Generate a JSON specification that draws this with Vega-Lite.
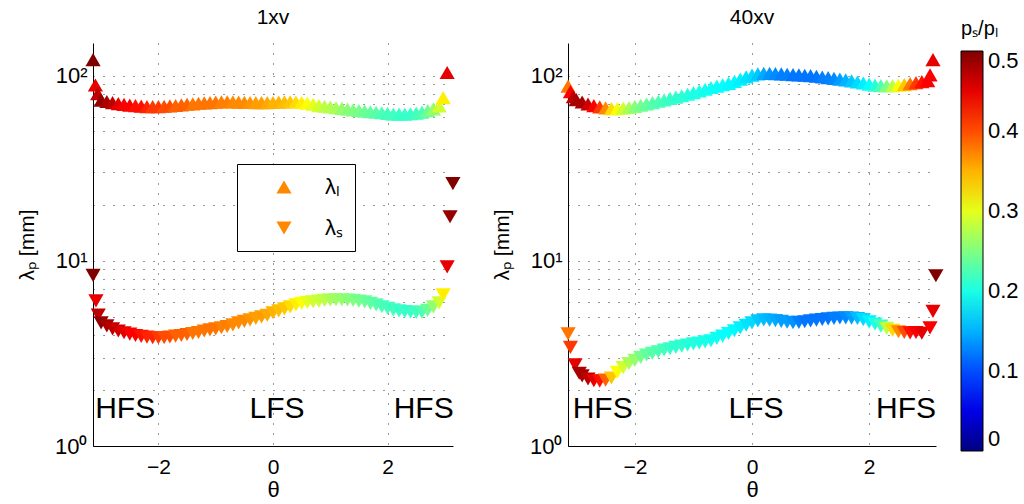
{
"$schema": "https://vega.github.io/schema/vega-lite/v6.json",
"background": "white",
"padding": {"left": 16, "top": 7, "right": 5, "bottom": 5},
"spacing": 30,
"config": {
  "font": "Liberation Sans",
  "view": {"stroke": null},
  "axis": {"labelColor": "black", "titleColor": "black", "domainColor": "black", "domainWidth": 1, "gridColor": "black", "gridDash": [1, 9], "gridOpacity": 0.8, "gridWidth": 1, "ticks": false, "labelFont": "Liberation Sans", "titleFont": "Liberation Sans", "titleFontWeight": "normal"},
  "title": {"fontSize": 21, "fontWeight": "normal", "color": "black", "offset": 15, "frame": "group", "font": "Liberation Sans"},
  "legend": {"labelColor": "black", "titleColor": "black", "labelFont": "Liberation Sans", "titleFont": "Liberation Sans"}
},
"datasets": {
  "p1": [
    {"t":-3.14,"v":122,"c":0.5,"s":"l"},{"t":-3.1,"v":89,"c":0.45,"s":"l"},{"t":-3.06,"v":80,"c":0.47,"s":"l"},
    {"t":-3.0,"v":73.7,"c":0.49,"s":"l"},{"t":-2.9,"v":72.5,"c":0.48,"s":"l"},{"t":-2.8,"v":71.5,"c":0.47,"s":"l"},{"t":-2.7,"v":70.6,"c":0.45,"s":"l"},{"t":-2.6,"v":69.9,"c":0.44,"s":"l"},{"t":-2.5,"v":69.3,"c":0.44,"s":"l"},{"t":-2.4,"v":68.8,"c":0.43,"s":"l"},{"t":-2.3,"v":68.4,"c":0.43,"s":"l"},{"t":-2.2,"v":68.0,"c":0.42,"s":"l"},{"t":-2.1,"v":68.0,"c":0.41,"s":"l"},
    {"t":-2.0,"v":68.0,"c":0.41,"s":"l"},{"t":-1.9,"v":68.3,"c":0.40,"s":"l"},{"t":-1.8,"v":68.6,"c":0.40,"s":"l"},{"t":-1.7,"v":69.0,"c":0.39,"s":"l"},{"t":-1.6,"v":69.5,"c":0.39,"s":"l"},{"t":-1.5,"v":70.0,"c":0.39,"s":"l"},{"t":-1.4,"v":70.4,"c":0.38,"s":"l"},{"t":-1.3,"v":70.9,"c":0.38,"s":"l"},{"t":-1.2,"v":71.2,"c":0.38,"s":"l"},{"t":-1.1,"v":71.5,"c":0.38,"s":"l"},
    {"t":-1.0,"v":71.9,"c":0.38,"s":"l"},{"t":-0.9,"v":72.2,"c":0.375,"s":"l"},{"t":-0.8,"v":72.3,"c":0.375,"s":"l"},{"t":-0.7,"v":72.1,"c":0.37,"s":"l"},{"t":-0.6,"v":71.9,"c":0.37,"s":"l"},{"t":-0.5,"v":71.7,"c":0.37,"s":"l"},{"t":-0.4,"v":71.6,"c":0.365,"s":"l"},{"t":-0.3,"v":71.5,"c":0.36,"s":"l"},{"t":-0.2,"v":71.5,"c":0.36,"s":"l"},{"t":-0.1,"v":71.5,"c":0.355,"s":"l"},
    {"t":0.0,"v":71.6,"c":0.35,"s":"l"},{"t":0.1,"v":71.9,"c":0.35,"s":"l"},{"t":0.2,"v":72.1,"c":0.345,"s":"l"},{"t":0.3,"v":72.3,"c":0.34,"s":"l"},{"t":0.4,"v":72.0,"c":0.33,"s":"l"},{"t":0.5,"v":71.6,"c":0.32,"s":"l"},{"t":0.6,"v":71.0,"c":0.31,"s":"l"},{"t":0.7,"v":70.0,"c":0.30,"s":"l"},{"t":0.8,"v":68.9,"c":0.29,"s":"l"},{"t":0.9,"v":68.3,"c":0.28,"s":"l"},
    {"t":1.0,"v":67.7,"c":0.275,"s":"l"},{"t":1.1,"v":67.1,"c":0.27,"s":"l"},{"t":1.2,"v":66.5,"c":0.26,"s":"l"},{"t":1.3,"v":65.9,"c":0.255,"s":"l"},{"t":1.4,"v":65.3,"c":0.25,"s":"l"},{"t":1.5,"v":64.8,"c":0.245,"s":"l"},{"t":1.6,"v":64.3,"c":0.24,"s":"l"},{"t":1.7,"v":63.8,"c":0.235,"s":"l"},{"t":1.8,"v":63.4,"c":0.23,"s":"l"},{"t":1.9,"v":63.0,"c":0.225,"s":"l"},
    {"t":2.0,"v":62.5,"c":0.22,"s":"l"},{"t":2.1,"v":62.0,"c":0.22,"s":"l"},{"t":2.2,"v":61.9,"c":0.215,"s":"l"},{"t":2.3,"v":61.9,"c":0.215,"s":"l"},{"t":2.4,"v":62.2,"c":0.215,"s":"l"},{"t":2.5,"v":62.7,"c":0.22,"s":"l"},{"t":2.6,"v":63.5,"c":0.225,"s":"l"},{"t":2.7,"v":64.7,"c":0.24,"s":"l"},{"t":2.8,"v":66.1,"c":0.26,"s":"l"},{"t":2.9,"v":68.5,"c":0.29,"s":"l"},
    {"t":2.97,"v":76.0,"c":0.32,"s":"l"},{"t":3.04,"v":104,"c":0.45,"s":"l"},
    {"t":-3.14,"v":8.35,"c":0.5,"s":"s"},{"t":-3.09,"v":6.08,"c":0.45,"s":"s"},{"t":-3.05,"v":5.1,"c":0.47,"s":"s"},
    {"t":-3.0,"v":4.62,"c":0.49,"s":"s"},{"t":-2.9,"v":4.45,"c":0.48,"s":"s"},{"t":-2.8,"v":4.29,"c":0.47,"s":"s"},{"t":-2.7,"v":4.18,"c":0.46,"s":"s"},{"t":-2.6,"v":4.09,"c":0.45,"s":"s"},{"t":-2.5,"v":4.02,"c":0.44,"s":"s"},{"t":-2.4,"v":3.95,"c":0.44,"s":"s"},{"t":-2.3,"v":3.91,"c":0.43,"s":"s"},{"t":-2.2,"v":3.87,"c":0.42,"s":"s"},{"t":-2.1,"v":3.84,"c":0.42,"s":"s"},
    {"t":-2.0,"v":3.84,"c":0.41,"s":"s"},{"t":-1.9,"v":3.85,"c":0.40,"s":"s"},{"t":-1.8,"v":3.88,"c":0.40,"s":"s"},{"t":-1.7,"v":3.92,"c":0.39,"s":"s"},{"t":-1.6,"v":3.95,"c":0.39,"s":"s"},{"t":-1.5,"v":4.00,"c":0.39,"s":"s"},{"t":-1.4,"v":4.05,"c":0.38,"s":"s"},{"t":-1.3,"v":4.10,"c":0.38,"s":"s"},{"t":-1.2,"v":4.18,"c":0.38,"s":"s"},{"t":-1.1,"v":4.24,"c":0.38,"s":"s"},
    {"t":-1.0,"v":4.29,"c":0.38,"s":"s"},{"t":-0.9,"v":4.35,"c":0.375,"s":"s"},{"t":-0.8,"v":4.42,"c":0.375,"s":"s"},{"t":-0.7,"v":4.51,"c":0.37,"s":"s"},{"t":-0.6,"v":4.62,"c":0.37,"s":"s"},{"t":-0.5,"v":4.71,"c":0.37,"s":"s"},{"t":-0.4,"v":4.80,"c":0.365,"s":"s"},{"t":-0.3,"v":4.89,"c":0.36,"s":"s"},{"t":-0.2,"v":4.98,"c":0.36,"s":"s"},{"t":-0.1,"v":5.08,"c":0.355,"s":"s"},
    {"t":0.0,"v":5.24,"c":0.35,"s":"s"},{"t":0.1,"v":5.37,"c":0.345,"s":"s"},{"t":0.2,"v":5.50,"c":0.34,"s":"s"},{"t":0.3,"v":5.64,"c":0.33,"s":"s"},{"t":0.4,"v":5.78,"c":0.32,"s":"s"},{"t":0.5,"v":5.89,"c":0.31,"s":"s"},{"t":0.6,"v":5.96,"c":0.30,"s":"s"},{"t":0.7,"v":6.01,"c":0.29,"s":"s"},{"t":0.8,"v":6.06,"c":0.285,"s":"s"},{"t":0.9,"v":6.11,"c":0.28,"s":"s"},
    {"t":1.0,"v":6.14,"c":0.27,"s":"s"},{"t":1.1,"v":6.16,"c":0.265,"s":"s"},{"t":1.2,"v":6.16,"c":0.26,"s":"s"},{"t":1.3,"v":6.14,"c":0.255,"s":"s"},{"t":1.4,"v":6.11,"c":0.25,"s":"s"},{"t":1.5,"v":6.06,"c":0.245,"s":"s"},{"t":1.6,"v":6.00,"c":0.24,"s":"s"},{"t":1.7,"v":5.89,"c":0.235,"s":"s"},{"t":1.8,"v":5.78,"c":0.23,"s":"s"},{"t":1.9,"v":5.65,"c":0.225,"s":"s"},
    {"t":2.0,"v":5.54,"c":0.22,"s":"s"},{"t":2.1,"v":5.43,"c":0.22,"s":"s"},{"t":2.2,"v":5.37,"c":0.215,"s":"s"},{"t":2.3,"v":5.32,"c":0.215,"s":"s"},{"t":2.4,"v":5.29,"c":0.215,"s":"s"},{"t":2.5,"v":5.27,"c":0.22,"s":"s"},{"t":2.6,"v":5.28,"c":0.225,"s":"s"},{"t":2.7,"v":5.40,"c":0.24,"s":"s"},{"t":2.8,"v":5.64,"c":0.26,"s":"s"},{"t":2.9,"v":5.93,"c":0.29,"s":"s"},
    {"t":2.97,"v":6.55,"c":0.32,"s":"s"},{"t":3.04,"v":9.28,"c":0.45,"s":"s"},{"t":3.09,"v":17.3,"c":0.49,"s":"s"},{"t":3.14,"v":26.1,"c":0.5,"s":"s"}
  ],
  "p2": [
    {"t":-3.14,"v":87.8,"c":0.38,"s":"l"},{"t":-3.1,"v":82,"c":0.44,"s":"l"},{"t":-3.05,"v":77,"c":0.47,"s":"l"},
    {"t":-3.0,"v":74.2,"c":0.48,"s":"l"},{"t":-2.9,"v":72.0,"c":0.48,"s":"l"},{"t":-2.8,"v":70.3,"c":0.46,"s":"l"},{"t":-2.7,"v":68.9,"c":0.44,"s":"l"},{"t":-2.6,"v":67.8,"c":0.41,"s":"l"},{"t":-2.5,"v":66.9,"c":0.37,"s":"l"},{"t":-2.4,"v":66.3,"c":0.33,"s":"l"},{"t":-2.3,"v":66.3,"c":0.31,"s":"l"},{"t":-2.2,"v":66.7,"c":0.29,"s":"l"},{"t":-2.1,"v":67.3,"c":0.27,"s":"l"},
    {"t":-2.0,"v":68.2,"c":0.255,"s":"l"},{"t":-1.9,"v":69.2,"c":0.245,"s":"l"},{"t":-1.8,"v":70.3,"c":0.235,"s":"l"},{"t":-1.7,"v":71.5,"c":0.23,"s":"l"},{"t":-1.6,"v":72.7,"c":0.225,"s":"l"},{"t":-1.5,"v":74.0,"c":0.22,"s":"l"},{"t":-1.4,"v":75.3,"c":0.215,"s":"l"},{"t":-1.3,"v":76.5,"c":0.21,"s":"l"},{"t":-1.2,"v":77.9,"c":0.21,"s":"l"},{"t":-1.1,"v":79.3,"c":0.205,"s":"l"},
    {"t":-1.0,"v":80.9,"c":0.2,"s":"l"},{"t":-0.9,"v":82.6,"c":0.2,"s":"l"},{"t":-0.8,"v":84.4,"c":0.195,"s":"l"},{"t":-0.7,"v":86.2,"c":0.195,"s":"l"},{"t":-0.6,"v":87.7,"c":0.19,"s":"l"},{"t":-0.5,"v":89.3,"c":0.19,"s":"l"},{"t":-0.4,"v":90.8,"c":0.185,"s":"l"},{"t":-0.3,"v":93.1,"c":0.185,"s":"l"},{"t":-0.2,"v":95.8,"c":0.18,"s":"l"},{"t":-0.1,"v":98.4,"c":0.175,"s":"l"},
    {"t":0.0,"v":100.6,"c":0.17,"s":"l"},{"t":0.1,"v":102.2,"c":0.16,"s":"l"},{"t":0.2,"v":102.8,"c":0.145,"s":"l"},{"t":0.3,"v":102.8,"c":0.135,"s":"l"},{"t":0.4,"v":102.5,"c":0.13,"s":"l"},{"t":0.5,"v":102.2,"c":0.125,"s":"l"},{"t":0.6,"v":101.7,"c":0.125,"s":"l"},{"t":0.7,"v":101.2,"c":0.12,"s":"l"},{"t":0.8,"v":100.9,"c":0.12,"s":"l"},{"t":0.9,"v":100.5,"c":0.12,"s":"l"},
    {"t":1.0,"v":100.0,"c":0.12,"s":"l"},{"t":1.1,"v":99.2,"c":0.12,"s":"l"},{"t":1.2,"v":98.3,"c":0.125,"s":"l"},{"t":1.3,"v":97.5,"c":0.125,"s":"l"},{"t":1.4,"v":96.7,"c":0.13,"s":"l"},{"t":1.5,"v":95.8,"c":0.14,"s":"l"},{"t":1.6,"v":94.8,"c":0.15,"s":"l"},{"t":1.7,"v":93.6,"c":0.16,"s":"l"},{"t":1.8,"v":92.3,"c":0.17,"s":"l"},{"t":1.9,"v":91.2,"c":0.18,"s":"l"},
    {"t":2.0,"v":89.9,"c":0.19,"s":"l"},{"t":2.1,"v":88.9,"c":0.205,"s":"l"},{"t":2.2,"v":88.3,"c":0.225,"s":"l"},{"t":2.3,"v":88.1,"c":0.25,"s":"l"},{"t":2.4,"v":88.3,"c":0.28,"s":"l"},{"t":2.5,"v":88.7,"c":0.31,"s":"l"},{"t":2.6,"v":89.4,"c":0.34,"s":"l"},{"t":2.7,"v":90.5,"c":0.38,"s":"l"},{"t":2.8,"v":91.6,"c":0.41,"s":"l"},{"t":2.9,"v":92.8,"c":0.43,"s":"l"},
    {"t":3.0,"v":94.0,"c":0.44,"s":"l"},{"t":3.04,"v":101,"c":0.44,"s":"l"},{"t":3.09,"v":122,"c":0.45,"s":"l"},
    {"t":-3.14,"v":4.03,"c":0.38,"s":"s"},{"t":-3.1,"v":3.41,"c":0.41,"s":"s"},{"t":-3.02,"v":2.74,"c":0.45,"s":"s"},{"t":-2.95,"v":2.47,"c":0.48,"s":"s"},
    {"t":-2.9,"v":2.39,"c":0.48,"s":"s"},{"t":-2.8,"v":2.30,"c":0.47,"s":"s"},{"t":-2.7,"v":2.25,"c":0.45,"s":"s"},{"t":-2.6,"v":2.24,"c":0.43,"s":"s"},{"t":-2.5,"v":2.27,"c":0.39,"s":"s"},{"t":-2.4,"v":2.33,"c":0.34,"s":"s"},{"t":-2.3,"v":2.50,"c":0.31,"s":"s"},{"t":-2.2,"v":2.65,"c":0.29,"s":"s"},{"t":-2.1,"v":2.79,"c":0.27,"s":"s"},
    {"t":-2.0,"v":2.90,"c":0.26,"s":"s"},{"t":-1.9,"v":3.01,"c":0.245,"s":"s"},{"t":-1.8,"v":3.10,"c":0.235,"s":"s"},{"t":-1.7,"v":3.17,"c":0.23,"s":"s"},{"t":-1.6,"v":3.23,"c":0.225,"s":"s"},{"t":-1.5,"v":3.30,"c":0.22,"s":"s"},{"t":-1.4,"v":3.35,"c":0.215,"s":"s"},{"t":-1.3,"v":3.41,"c":0.21,"s":"s"},{"t":-1.2,"v":3.46,"c":0.21,"s":"s"},{"t":-1.1,"v":3.51,"c":0.205,"s":"s"},
    {"t":-1.0,"v":3.56,"c":0.205,"s":"s"},{"t":-0.9,"v":3.60,"c":0.2,"s":"s"},{"t":-0.8,"v":3.65,"c":0.2,"s":"s"},{"t":-0.7,"v":3.70,"c":0.195,"s":"s"},{"t":-0.6,"v":3.81,"c":0.195,"s":"s"},{"t":-0.5,"v":3.92,"c":0.19,"s":"s"},{"t":-0.4,"v":4.05,"c":0.19,"s":"s"},{"t":-0.3,"v":4.19,"c":0.185,"s":"s"},{"t":-0.2,"v":4.34,"c":0.18,"s":"s"},{"t":-0.1,"v":4.49,"c":0.175,"s":"s"},
    {"t":0.0,"v":4.62,"c":0.17,"s":"s"},{"t":0.1,"v":4.74,"c":0.16,"s":"s"},{"t":0.2,"v":4.80,"c":0.155,"s":"s"},{"t":0.3,"v":4.78,"c":0.15,"s":"s"},{"t":0.4,"v":4.75,"c":0.145,"s":"s"},{"t":0.5,"v":4.71,"c":0.14,"s":"s"},{"t":0.6,"v":4.66,"c":0.14,"s":"s"},{"t":0.7,"v":4.63,"c":0.135,"s":"s"},{"t":0.8,"v":4.65,"c":0.125,"s":"s"},{"t":0.9,"v":4.69,"c":0.12,"s":"s"},
    {"t":1.0,"v":4.74,"c":0.12,"s":"s"},{"t":1.1,"v":4.78,"c":0.12,"s":"s"},{"t":1.2,"v":4.82,"c":0.12,"s":"s"},{"t":1.3,"v":4.86,"c":0.12,"s":"s"},{"t":1.4,"v":4.89,"c":0.125,"s":"s"},{"t":1.5,"v":4.91,"c":0.125,"s":"s"},{"t":1.6,"v":4.92,"c":0.13,"s":"s"},{"t":1.7,"v":4.90,"c":0.14,"s":"s"},{"t":1.8,"v":4.88,"c":0.155,"s":"s"},{"t":1.9,"v":4.81,"c":0.17,"s":"s"},
    {"t":2.0,"v":4.68,"c":0.18,"s":"s"},{"t":2.1,"v":4.56,"c":0.2,"s":"s"},{"t":2.2,"v":4.44,"c":0.22,"s":"s"},{"t":2.3,"v":4.32,"c":0.28,"s":"s"},{"t":2.4,"v":4.21,"c":0.33,"s":"s"},{"t":2.5,"v":4.14,"c":0.37,"s":"s"},{"t":2.6,"v":4.10,"c":0.4,"s":"s"},{"t":2.7,"v":4.08,"c":0.43,"s":"s"},{"t":2.8,"v":4.10,"c":0.44,"s":"s"},{"t":2.9,"v":4.06,"c":0.45,"s":"s"},
    {"t":3.04,"v":4.34,"c":0.44,"s":"s"},{"t":3.09,"v":5.33,"c":0.45,"s":"s"},{"t":3.14,"v":8.3,"c":0.5,"s":"s"}
  ],
  "lab1": [{"t":-2.58,"v":1.58,"label":"HFS"},{"t":0.07,"v":1.58,"label":"LFS"},{"t":2.63,"v":1.58,"label":"HFS"}],
  "lab2": [{"t":-2.55,"v":1.58,"label":"HFS"},{"t":0.07,"v":1.58,"label":"LFS"},{"t":2.63,"v":1.58,"label":"HFS"}]
},
"hconcat": [
  {
    "width": 360, "height": 403,
    "title": "1xv",
    "layer": [
      {
        "data": {"name": "p1"},
        "mark": {"type": "point", "filled": true, "opacity": 1, "size": 230, "strokeWidth": 0},
        "encoding": {
          "x": {"field": "t", "type": "quantitative", "title": "θ", "scale": {"domain": [-3.1416, 3.1416], "nice": false, "zero": false},
                "axis": {"values": [-2, 0, 2], "format": "d", "grid": true, "labelFontSize": 21, "titleFontSize": 22, "labelPadding": 10, "titlePadding": 2}},
          "y": {"field": "v", "type": "quantitative", "title": "λₚ [mm]", "scale": {"type": "log", "domain": [1, 150], "nice": false},
                "axis": {"values": [1,2,3,4,5,6,7,8,9,10,20,30,40,50,60,70,80,90,100], "grid": true, "labelOverlap": false,
                         "labelExpr": "datum.value == 1 ? '10⁰' : datum.value == 10 ? '10¹' : datum.value == 100 ? '10²' : ''",
                         "labelFontSize": 22, "labelPadding": 6, "titleFontSize": 21, "titlePadding": 17}},
          "color": {"field": "c", "type": "quantitative", "legend": null,
                    "scale": {"domain": [0, 0.0625, 0.1875, 0.3125, 0.4375, 0.5], "range": ["#000080", "#0000ff", "#00ffff", "#ffff00", "#ff0000", "#800000"], "interpolate": "rgb"}},
          "shape": {"field": "s", "type": "nominal", "scale": {"domain": ["l", "s"], "range": ["triangle-up", "triangle-down"]},
                    "legend": {"orient": "none", "legendX": 144, "legendY": 121, "title": null, "strokeColor": "black", "fillColor": "white",
                               "padding": 12, "symbolSize": 230, "symbolOffset": 24, "labelOffset": 30, "labelFontSize": 22, "rowPadding": 19,
                               "symbolFillColor": "#ff8800", "symbolStrokeColor": "#ff8800", "symbolStrokeWidth": 0, "symbolOpacity": 1,
                               "labelExpr": "datum.label == 'l' ? 'λₗ' : 'λₛ'",
                               "encode": {"symbols": {"update": {"fill": {"value": "#ff8800"}, "stroke": {"value": "#ff8800"}, "opacity": {"value": 1}}}}}}
        }
      },
      {
        "data": {"name": "lab1"},
        "mark": {"type": "text", "fontSize": 30, "baseline": "middle", "align": "center", "color": "black"},
        "encoding": {
          "x": {"field": "t", "type": "quantitative"},
          "y": {"field": "v", "type": "quantitative"},
          "text": {"field": "label"}
        }
      }
    ]
  },
  {
    "width": 368, "height": 403,
    "title": {"text": "40xv", "offset": -9},
    "layer": [
      {
        "data": {"name": "p2"},
        "mark": {"type": "point", "filled": true, "opacity": 1, "size": 230, "strokeWidth": 0},
        "encoding": {
          "x": {"field": "t", "type": "quantitative", "title": "θ", "scale": {"domain": [-3.1416, 3.1416], "nice": false, "zero": false},
                "axis": {"values": [-2, 0, 2], "format": "d", "grid": true, "labelFontSize": 21, "titleFontSize": 22, "labelPadding": 10, "titlePadding": 2}},
          "y": {"field": "v", "type": "quantitative", "title": "λₚ [mm]", "scale": {"type": "log", "domain": [1, 150], "nice": false},
                "axis": {"values": [1,2,3,4,5,6,7,8,9,10,20,30,40,50,60,70,80,90,100], "grid": true, "labelOverlap": false,
                         "labelExpr": "datum.value == 1 ? '10⁰' : datum.value == 10 ? '10¹' : datum.value == 100 ? '10²' : ''",
                         "labelFontSize": 22, "labelPadding": 6, "titleFontSize": 21, "titlePadding": 17}},
          "color": {"field": "c", "type": "quantitative",
                    "scale": {"domain": [0, 0.0625, 0.1875, 0.3125, 0.4375, 0.5], "range": ["#000080", "#0000ff", "#00ffff", "#ffff00", "#ff0000", "#800000"], "interpolate": "rgb"},
                    "legend": {"orient": "none", "legendX": 393, "legendY": -24, "direction": "vertical", "gradientLength": 400, "gradientThickness": 22,
                               "gradientStrokeColor": "black", "gradientStrokeWidth": 1, "values": [0, 0.1, 0.2, 0.3, 0.4, 0.5], "format": ".1~f",
                               "labelFontSize": 22, "labelOffset": 5, "labelOverlap": false, "title": "pₛ/pₗ", "titleFontSize": 20, "titleFontWeight": "normal",
                               "titlePadding": 12, "titleAnchor": "start", "padding": 0,
                               "encode": {"labels": {"update": {"baseline": {"value": "middle"}}}}}},
          "shape": {"field": "s", "type": "nominal", "scale": {"domain": ["l", "s"], "range": ["triangle-up", "triangle-down"]}, "legend": null}
        }
      },
      {
        "data": {"name": "lab2"},
        "mark": {"type": "text", "fontSize": 30, "baseline": "middle", "align": "center", "color": "black"},
        "encoding": {
          "x": {"field": "t", "type": "quantitative"},
          "y": {"field": "v", "type": "quantitative"},
          "text": {"field": "label"}
        }
      }
    ]
  }
],
"resolve": {"scale": {"color": "independent", "shape": "independent", "x": "independent", "y": "independent"}}
}
